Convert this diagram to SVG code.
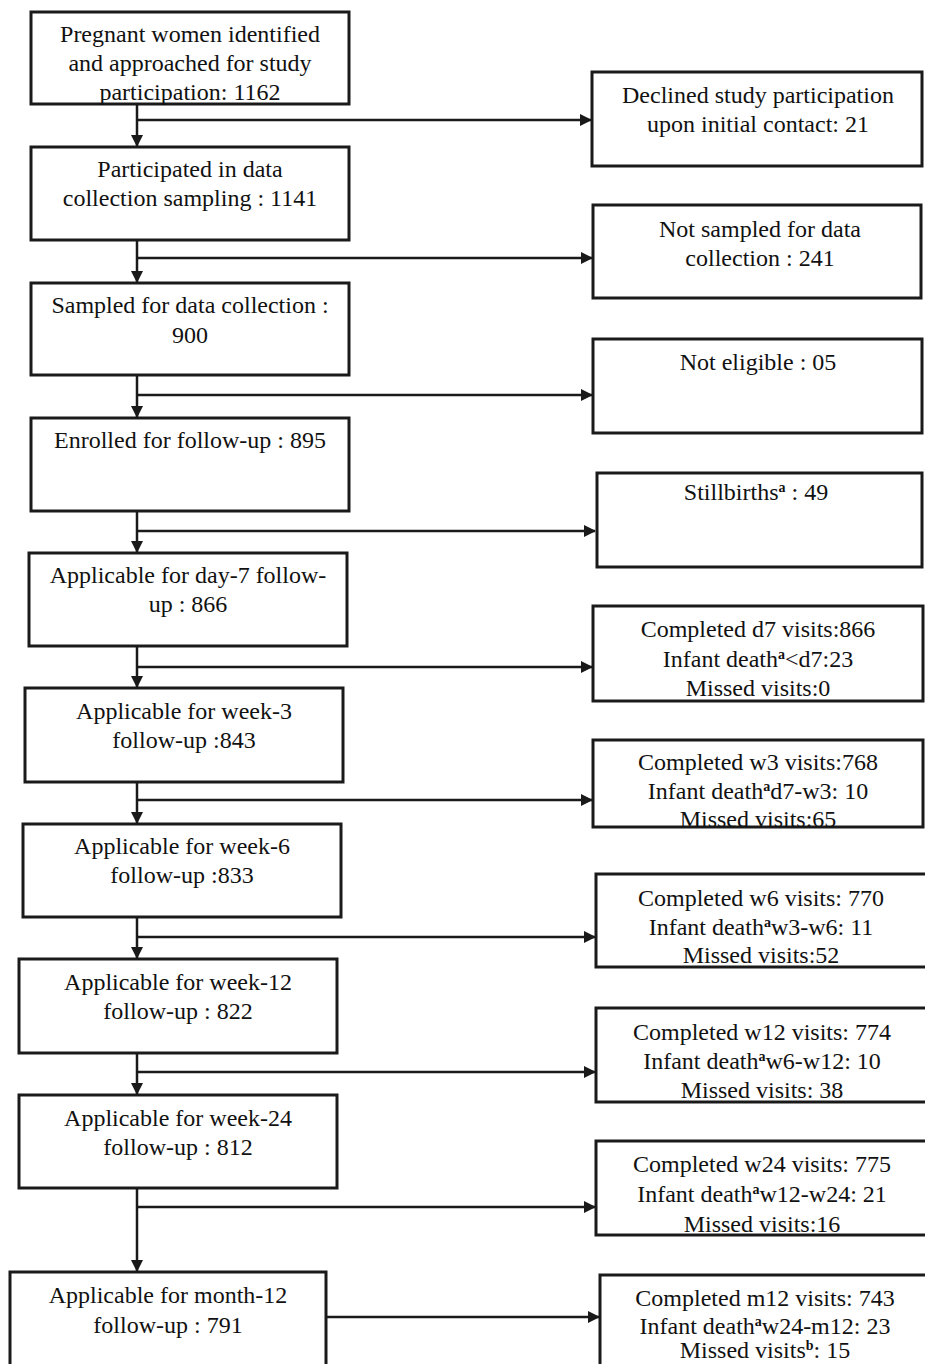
<svg xmlns="http://www.w3.org/2000/svg" width="925" height="1364" viewBox="0 0 925 1364">
<style>
.box{fill:#fff;stroke:#1a1a1a;stroke-width:3}
.t{font-family:"Liberation Serif","Times New Roman",serif;font-size:24px;fill:#111;text-anchor:middle}
.sup{font-size:14px;font-weight:bold}
.c{stroke:#1a1a1a;stroke-width:2.5;fill:none}
</style>
<defs>
<marker id="ah" markerUnits="userSpaceOnUse" markerWidth="12" markerHeight="12" refX="11" refY="6" orient="auto">
<path d="M0,0 L12,6 L0,12 z" fill="#1a1a1a"/>
</marker>
</defs>
<rect width="925" height="1364" fill="#fff"/>
<g id="connectors">
<path class="c" d="M137,104 V146" marker-end="url(#ah)"/>
<path class="c" d="M137,120 H591" marker-end="url(#ah)"/>
<path class="c" d="M137,240 V282" marker-end="url(#ah)"/>
<path class="c" d="M137,258 H592" marker-end="url(#ah)"/>
<path class="c" d="M137,375 V417" marker-end="url(#ah)"/>
<path class="c" d="M137,395 H592" marker-end="url(#ah)"/>
<path class="c" d="M137,511 V552" marker-end="url(#ah)"/>
<path class="c" d="M137,531 H595" marker-end="url(#ah)"/>
<path class="c" d="M137,646 V687" marker-end="url(#ah)"/>
<path class="c" d="M137,667 H592" marker-end="url(#ah)"/>
<path class="c" d="M137,782 V823" marker-end="url(#ah)"/>
<path class="c" d="M137,800 H592" marker-end="url(#ah)"/>
<path class="c" d="M137,917 V958" marker-end="url(#ah)"/>
<path class="c" d="M137,937 H595" marker-end="url(#ah)"/>
<path class="c" d="M137,1053 V1094" marker-end="url(#ah)"/>
<path class="c" d="M137,1072 H595" marker-end="url(#ah)"/>
<path class="c" d="M137,1188 V1271" marker-end="url(#ah)"/>
<path class="c" d="M137,1207 H595" marker-end="url(#ah)"/>
<path class="c" d="M326,1317 H599" marker-end="url(#ah)"/>
</g>
<g id="n1"><rect class="box" x="31" y="12" width="318" height="92"/>
<text class="t" x="190" y="42">Pregnant women identified</text>
<text class="t" x="190" y="71">and approached for study</text>
<text class="t" x="190" y="100">participation: 1162</text></g>
<g id="n2"><rect class="box" x="31" y="147" width="318" height="93"/>
<text class="t" x="190" y="177">Participated in data</text>
<text class="t" x="190" y="206">collection sampling : 1141</text></g>
<g id="n3"><rect class="box" x="31" y="283" width="318" height="92"/>
<text class="t" x="190" y="313">Sampled for data collection :</text>
<text class="t" x="190" y="343">900</text></g>
<g id="n4"><rect class="box" x="31" y="418" width="318" height="93"/>
<text class="t" x="190" y="448">Enrolled for follow-up : 895</text></g>
<g id="n5"><rect class="box" x="29" y="553" width="318" height="93"/>
<text class="t" x="188" y="583">Applicable for day-7 follow-</text>
<text class="t" x="188" y="612">up : 866</text></g>
<g id="n6"><rect class="box" x="25" y="688" width="318" height="94"/>
<text class="t" x="184" y="719">Applicable for week-3</text>
<text class="t" x="184" y="748">follow-up :843</text></g>
<g id="n7"><rect class="box" x="23" y="824" width="318" height="93"/>
<text class="t" x="182" y="854">Applicable for week-6</text>
<text class="t" x="182" y="883">follow-up :833</text></g>
<g id="n8"><rect class="box" x="19" y="959" width="318" height="94"/>
<text class="t" x="178" y="990">Applicable for week-12</text>
<text class="t" x="178" y="1019">follow-up : 822</text></g>
<g id="n9"><rect class="box" x="19" y="1095" width="318" height="93"/>
<text class="t" x="178" y="1126">Applicable for week-24</text>
<text class="t" x="178" y="1155">follow-up : 812</text></g>
<g id="n10"><rect class="box" x="10" y="1272" width="316" height="110"/>
<text class="t" x="168" y="1303">Applicable for month-12</text>
<text class="t" x="168" y="1333">follow-up : 791</text></g>
<g id="r1"><rect class="box" x="592" y="72" width="330" height="94"/>
<text class="t" x="758" y="103">Declined study participation</text>
<text class="t" x="758" y="132">upon initial contact: 21</text></g>
<g id="r2"><rect class="box" x="593" y="205" width="328" height="93"/>
<text class="t" x="760" y="237">Not sampled for data</text>
<text class="t" x="760" y="266">collection : 241</text></g>
<g id="r3"><rect class="box" x="593" y="339" width="329" height="94"/>
<text class="t" x="758" y="370">Not eligible : 05</text></g>
<g id="r4"><rect class="box" x="597" y="473" width="325" height="94"/>
<text class="t" x="756" y="500">Stillbirths<tspan class="sup" dy="-8">a</tspan><tspan dy="8"> : 49</tspan></text></g>
<g id="r5"><rect class="box" x="593" y="606" width="330" height="95"/>
<text class="t" x="758" y="637">Completed d7 visits:866</text>
<text class="t" x="758" y="667">Infant death<tspan class="sup" dy="-8">a</tspan><tspan dy="8">&lt;d7:23</tspan></text>
<text class="t" x="758" y="696">Missed visits:0</text></g>
<g id="r6"><rect class="box" x="593" y="740" width="330" height="87"/>
<text class="t" x="758" y="770">Completed w3 visits:768</text>
<text class="t" x="758" y="799">Infant death<tspan class="sup" dy="-8">a</tspan><tspan dy="8">d7-w3: 10</tspan></text>
<text class="t" x="758" y="827">Missed visits:65</text></g>
<g id="r7"><rect class="box" x="596" y="874" width="340" height="93"/>
<text class="t" x="761" y="906">Completed w6 visits: 770</text>
<text class="t" x="761" y="935">Infant death<tspan class="sup" dy="-8">a</tspan><tspan dy="8">w3-w6: 11</tspan></text>
<text class="t" x="761" y="963">Missed visits:52</text></g>
<g id="r8"><rect class="box" x="596" y="1008" width="340" height="94"/>
<text class="t" x="762" y="1040">Completed w12 visits: 774</text>
<text class="t" x="762" y="1069">Infant death<tspan class="sup" dy="-8">a</tspan><tspan dy="8">w6-w12: 10</tspan></text>
<text class="t" x="762" y="1098">Missed visits: 38</text></g>
<g id="r9"><rect class="box" x="596" y="1141" width="340" height="94"/>
<text class="t" x="762" y="1172">Completed w24 visits: 775</text>
<text class="t" x="762" y="1202">Infant death<tspan class="sup" dy="-8">a</tspan><tspan dy="8">w12-w24: 21</tspan></text>
<text class="t" x="762" y="1232">Missed visits:16</text></g>
<g id="r10"><rect class="box" x="600" y="1275" width="340" height="110"/>
<text class="t" x="765" y="1306">Completed m12 visits: 743</text>
<text class="t" x="765" y="1334">Infant death<tspan class="sup" dy="-8">a</tspan><tspan dy="8">w24-m12: 23</tspan></text>
<text class="t" x="765" y="1358">Missed visits<tspan class="sup" dy="-8">b</tspan><tspan dy="8">: 15</tspan></text></g>
</svg>
